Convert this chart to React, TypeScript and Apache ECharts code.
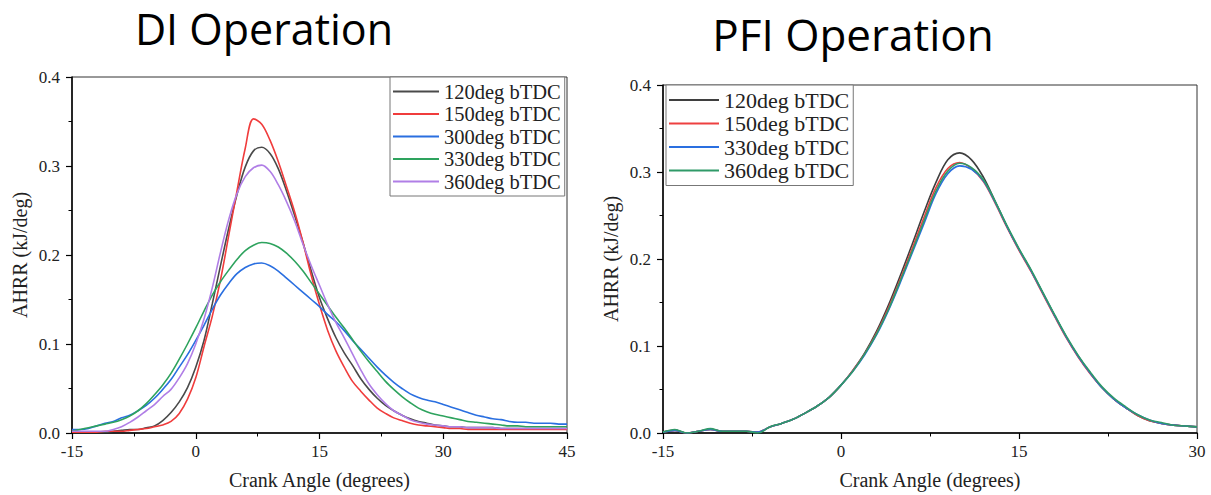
import React, { useEffect, useRef } from "react";
import * as echarts from "echarts";

// Crank angle samples (degrees)
const DI_ANGLES = [
  -15, -14, -13, -12, -11, -10, -9, -8, -7, -6,
  -5, -4, -3, -2, -1, 0, 1, 2, 3, 4,
  5, 6, 7, 8, 9, 10, 11, 12, 13, 14,
  15, 16, 17, 18, 19, 20, 21, 22, 23, 24,
  25, 26, 27, 28, 29, 30, 31, 32, 33, 34,
  35, 36, 37, 38, 39, 40, 41, 42, 43, 44, 45,
];
const PFI_ANGLES = [
  -15, -14, -13, -12, -11, -10, -9, -8, -7, -6,
  -5, -4, -3, -2, -1, 0, 1, 2, 3, 4,
  5, 6, 7, 8, 9, 10, 11, 12, 13, 14,
  15, 16, 17, 18, 19, 20, 21, 22, 23, 24,
  25, 26, 27, 28, 29, 30,
];

// DI operation – apparent heat release rate (kJ/deg)
const DI_120 = [
  0.001, 0.001, 0.001, 0.001, 0.001, 0.002, 0.003, 0.004, 0.004, 0.006,
  0.008, 0.014, 0.023, 0.035, 0.051, 0.074, 0.104, 0.145, 0.188, 0.230,
  0.268, 0.299, 0.317, 0.321, 0.314, 0.297, 0.272, 0.244, 0.214, 0.182,
  0.152, 0.128, 0.107, 0.090, 0.076, 0.061, 0.049, 0.039, 0.031, 0.025,
  0.020, 0.016, 0.013, 0.011, 0.009, 0.008, 0.007, 0.007, 0.006, 0.006,
  0.006, 0.006, 0.005, 0.005, 0.005, 0.005, 0.005, 0.005, 0.005, 0.005, 0.005,
];
const DI_150 = [
  0.001, 0.001, 0.001, 0.001, 0.002, 0.002, 0.002, 0.003, 0.004, 0.005,
  0.007, 0.009, 0.013, 0.022, 0.038, 0.062, 0.097, 0.131, 0.172, 0.222,
  0.272, 0.320, 0.353, 0.347, 0.329, 0.305, 0.277, 0.248, 0.214, 0.177,
  0.144, 0.115, 0.092, 0.074, 0.058, 0.047, 0.037, 0.028, 0.022, 0.017,
  0.014, 0.011, 0.009, 0.008, 0.007, 0.006, 0.005, 0.005, 0.004, 0.004,
  0.004, 0.004, 0.004, 0.004, 0.004, 0.004, 0.004, 0.004, 0.004, 0.004, 0.004,
];
const DI_300 = [
  0.004, 0.004, 0.005, 0.008, 0.011, 0.013, 0.017, 0.020, 0.025, 0.031,
  0.039, 0.049, 0.060, 0.074, 0.088, 0.104, 0.121, 0.139, 0.155, 0.168,
  0.179, 0.186, 0.190, 0.191, 0.188, 0.182, 0.174, 0.166, 0.158, 0.150,
  0.142, 0.133, 0.125, 0.115, 0.104, 0.094, 0.084, 0.074, 0.065, 0.057,
  0.050, 0.044, 0.040, 0.037, 0.035, 0.032, 0.029, 0.026, 0.023, 0.020,
  0.018, 0.016, 0.015, 0.013, 0.012, 0.012, 0.011, 0.011, 0.011, 0.010, 0.010,
];
const DI_330 = [
  0.002, 0.004, 0.006, 0.008, 0.010, 0.012, 0.015, 0.019, 0.025, 0.033,
  0.043, 0.054, 0.067, 0.083, 0.100, 0.118, 0.137, 0.155, 0.170, 0.183,
  0.195, 0.205, 0.211, 0.214, 0.213, 0.209, 0.202, 0.193, 0.182, 0.169,
  0.156, 0.143, 0.130, 0.118, 0.105, 0.092, 0.080, 0.069, 0.058, 0.049,
  0.041, 0.034, 0.028, 0.024, 0.021, 0.019, 0.017, 0.015, 0.013, 0.012,
  0.011, 0.010, 0.009, 0.008, 0.008, 0.007, 0.007, 0.007, 0.007, 0.007, 0.007,
];
const DI_360 = [
  0.002, 0.002, 0.002, 0.002, 0.002, 0.004, 0.007, 0.012, 0.018, 0.025,
  0.032, 0.041, 0.049, 0.062, 0.078, 0.100, 0.128, 0.163, 0.203, 0.240,
  0.269, 0.288, 0.298, 0.301, 0.294, 0.279, 0.260, 0.238, 0.212, 0.188,
  0.166, 0.144, 0.124, 0.107, 0.089, 0.071, 0.055, 0.043, 0.033, 0.025,
  0.020, 0.015, 0.012, 0.010, 0.009, 0.008, 0.007, 0.007, 0.006, 0.006,
  0.006, 0.006, 0.005, 0.005, 0.005, 0.005, 0.005, 0.005, 0.005, 0.005, 0.005,
];

// PFI operation – apparent heat release rate (kJ/deg)
const PFI_120 = [
  0.001, 0.003, 0.000, 0.002, 0.004, 0.002, 0.002, 0.002, 0.001, 0.007,
  0.011, 0.016, 0.023, 0.031, 0.041, 0.055, 0.072, 0.092, 0.117, 0.147,
  0.181, 0.217, 0.254, 0.288, 0.314, 0.322, 0.314, 0.294, 0.266, 0.237,
  0.211, 0.187, 0.161, 0.135, 0.110, 0.088, 0.069, 0.052, 0.039, 0.029,
  0.020, 0.014, 0.011, 0.009, 0.008, 0.007,
];
const PFI_150 = [
  0.001, 0.003, 0.000, 0.002, 0.004, 0.002, 0.002, 0.002, 0.001, 0.007,
  0.011, 0.016, 0.023, 0.031, 0.041, 0.055, 0.072, 0.091, 0.115, 0.144,
  0.177, 0.212, 0.248, 0.282, 0.304, 0.311, 0.304, 0.289, 0.264, 0.236,
  0.210, 0.186, 0.160, 0.134, 0.109, 0.087, 0.068, 0.052, 0.039, 0.029,
  0.020, 0.014, 0.011, 0.009, 0.008, 0.007,
];
const PFI_330 = [
  0.001, 0.003, 0.000, 0.002, 0.004, 0.002, 0.002, 0.002, 0.001, 0.007,
  0.011, 0.016, 0.023, 0.031, 0.041, 0.055, 0.071, 0.090, 0.113, 0.141,
  0.173, 0.207, 0.241, 0.275, 0.298, 0.307, 0.303, 0.290, 0.265, 0.237,
  0.211, 0.187, 0.161, 0.135, 0.110, 0.088, 0.069, 0.052, 0.039, 0.029,
  0.021, 0.015, 0.011, 0.009, 0.008, 0.007,
];
const PFI_360 = [
  0.001, 0.004, 0.000, 0.002, 0.005, 0.002, 0.002, 0.002, 0.000, 0.007,
  0.011, 0.016, 0.023, 0.031, 0.041, 0.055, 0.071, 0.091, 0.114, 0.142,
  0.175, 0.209, 0.244, 0.278, 0.301, 0.310, 0.305, 0.291, 0.266, 0.238,
  0.212, 0.188, 0.162, 0.136, 0.111, 0.089, 0.070, 0.053, 0.040, 0.030,
  0.021, 0.015, 0.012, 0.009, 0.008, 0.007,
];

const DI_NAMES = ["120deg bTDC", "150deg bTDC", "300deg bTDC", "330deg bTDC", "360deg bTDC"];
const PFI_NAMES = ["120deg bTDC", "150deg bTDC", "330deg bTDC", "360deg bTDC"];
const DI_COLORS = ["#4a4a4a", "#f03c3c", "#2a6fe0", "#2ea35e", "#b07ee6"];
const PFI_COLORS = ["#3f3f3f", "#ee4040", "#2a6fe0", "#2f9a68"];

const SERIF = "'Liberation Serif', 'Times New Roman', serif";
const TITLE_FAMILY = "'Open Sans', Inter, sans-serif";

const pairs = (xs: number[], ys: number[]) => xs.map((x, i) => [x, ys[i]]);

function makeXAxis(gridIndex: number, max: number) {
  return {
    type: "value",
    gridIndex,
    min: -15,
    max,
    interval: 15,
    name: "Crank Angle (degrees)",
    nameLocation: "middle",
    nameGap: 37,
    nameTextStyle: { fontFamily: SERIF, fontSize: 20, color: "#222" },
    axisLine: { show: true, onZero: false, lineStyle: { color: "#000", width: 1.5 } },
    axisTick: { show: true, length: 6, lineStyle: { color: "#000", width: 1.2 } },
    minorTick: { show: true, splitNumber: 2, length: 3.5, lineStyle: { color: "#000", width: 1 } },
    axisLabel: { margin: 10, fontFamily: SERIF, fontSize: 17, color: "#222" },
    splitLine: { show: false },
    minorSplitLine: { show: false },
  };
}

function makeYAxis(gridIndex: number) {
  return {
    type: "value",
    gridIndex,
    min: 0,
    max: 0.4,
    interval: 0.1,
    name: "AHRR (kJ/deg)",
    nameLocation: "middle",
    nameRotate: 90,
    nameGap: 42,
    nameTextStyle: { fontFamily: SERIF, fontSize: 20, color: "#222" },
    axisLine: { show: true, onZero: false, lineStyle: { color: "#000", width: 1.5 } },
    axisTick: { show: true, length: 6, lineStyle: { color: "#000", width: 1.2 } },
    minorTick: { show: true, splitNumber: 2, length: 3.5, lineStyle: { color: "#000", width: 1 } },
    axisLabel: {
      margin: 12,
      fontFamily: SERIF,
      fontSize: 17,
      color: "#222",
      formatter: (v: number) => v.toFixed(1),
    },
    splitLine: { show: false },
    minorSplitLine: { show: false },
  };
}

function makeSeries(
  names: string[],
  colors: string[],
  xs: number[],
  values: number[][],
  axisIndex: number
) {
  return names.map((name, i) => ({
    type: "line",
    name,
    xAxisIndex: axisIndex,
    yAxisIndex: axisIndex,
    data: pairs(xs, values[i]),
    symbol: "none",
    showSymbol: false,
    smooth: 0.35,
    clip: true,
    lineStyle: { width: 1.6, color: colors[i] },
    itemStyle: { color: colors[i] },
    emphasis: { disabled: true },
  }));
}

// Legend keys are plain line segments, so the icon is a thin bar.
function makeLegend(
  names: string[],
  colors: string[],
  left: number,
  top: number,
  size: number,
  lineLen: number
) {
  return {
    orient: "vertical",
    left,
    top,
    padding: [4, 4, 4, 3],
    itemGap: 1.5,
    itemWidth: lineLen,
    itemHeight: 2,
    icon: "rect",
    backgroundColor: "#fff",
    borderColor: "#777",
    borderWidth: 1,
    borderRadius: 0,
    selectedMode: false,
    textStyle: { fontFamily: SERIF, fontSize: size, lineHeight: size, color: "#222" },
    data: names.map((name, i) => ({
      name,
      icon: "rect",
      itemStyle: { color: colors[i], borderWidth: 0 },
      lineStyle: { color: colors[i], width: 0, opacity: 0 },
    })),
  };
}

export default function App() {
  const ref = useRef<HTMLDivElement>(null);

  useEffect(() => {
    document.body.style.margin = "0";
    const chart = echarts.init(ref.current!, undefined, { renderer: "svg" });
    chart.setOption({
      animation: false,
      backgroundColor: "#fff",
      grid: [
        { left: 72, top: 77, width: 495, height: 358, show: true, borderColor: "#333", borderWidth: 1 },
        { left: 663, top: 85, width: 534, height: 350, show: true, borderColor: "#333", borderWidth: 1 },
      ],
      xAxis: [makeXAxis(0, 45), makeXAxis(1, 30)],
      yAxis: [makeYAxis(0), makeYAxis(1)],
      legend: [
        makeLegend(DI_NAMES, DI_COLORS, 390, 77, 20.5, 46),
        makeLegend(PFI_NAMES, PFI_COLORS, 666, 85, 22, 50),
      ],
      graphic: [
        {
          type: "text",
          x: 264,
          y: 28,
          style: {
            text: "DI Operation",
            fontFamily: TITLE_FAMILY,
            fontSize: 43,
            lineHeight: 44,
            fill: "#000",
            align: "center",
            verticalAlign: "middle",
          },
        },
        {
          type: "text",
          x: 853,
          y: 34,
          style: {
            text: "PFI Operation",
            fontFamily: TITLE_FAMILY,
            fontSize: 44,
            lineHeight: 45,
            fill: "#000",
            align: "center",
            verticalAlign: "middle",
          },
        },
      ],
      series: [
        ...makeSeries(DI_NAMES, DI_COLORS, DI_ANGLES, [DI_120, DI_150, DI_300, DI_330, DI_360], 0),
        ...makeSeries(PFI_NAMES, PFI_COLORS, PFI_ANGLES, [PFI_120, PFI_150, PFI_330, PFI_360], 1),
      ],
    });
    return () => chart.dispose();
  }, []);

  return <div ref={ref} style={{ width: 1211, height: 495 }} />;
}
